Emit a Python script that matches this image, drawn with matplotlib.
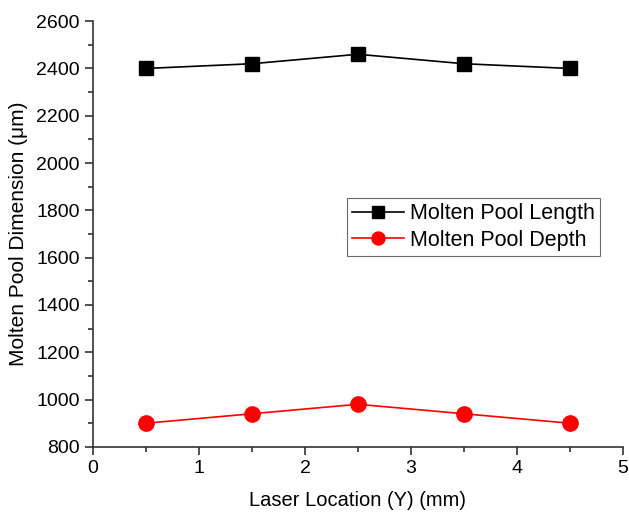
import matplotlib.pyplot as plt
from matplotlib.ticker import MultipleLocator

plt.rcParams['font.family'] = ['Liberation Sans', 'DejaVu Sans']

location = [0.5, 1.5, 2.5, 3.5, 4.5]
pool_length = [2400, 2420, 2460, 2420, 2400]
pool_depth = [900, 940, 980, 940, 900]

fig = plt.figure(figsize=(6.29, 5.16), dpi=100)
ax = fig.add_axes([0.148, 0.134, 0.842, 0.825])

ax.plot(location, pool_length, color='black', marker='s', markersize=10,
        linewidth=1.2, label='Molten Pool Length')
ax.plot(location, pool_depth, color='red', marker='o', markersize=11,
        linewidth=1.2, label='Molten Pool Depth')

ax.set_xlim(0, 5)
ax.set_ylim(800, 2600)
ax.xaxis.set_major_locator(MultipleLocator(1))
ax.xaxis.set_minor_locator(MultipleLocator(0.5))
ax.yaxis.set_major_locator(MultipleLocator(200))
ax.yaxis.set_minor_locator(MultipleLocator(100))

for side in ['top', 'right']:
    ax.spines[side].set_visible(False)
for side in ['left', 'bottom']:
    ax.spines[side].set_linewidth(1.2)
    ax.spines[side].set_color('#333333')
ax.tick_params(which='major', direction='out', length=6, width=1.2,
               labelsize=14, color='#333333')
ax.tick_params(which='minor', direction='out', length=3.5, width=1.2,
               color='#333333')

ax.set_xlabel('Laser Location (Y) (mm)', fontsize=14.5, labelpad=10)
ax.set_ylabel('Molten Pool Dimension (μm)', fontsize=15, labelpad=6)

leg = ax.legend(loc='upper right', bbox_to_anchor=(0.958, 0.585),
                fontsize=15.5, frameon=True, fancybox=False,
                edgecolor='#444444', handlelength=2.4, borderpad=0.25,
                labelspacing=0.25, handletextpad=0.3, borderaxespad=0,
                markerscale=0.85)
leg.get_frame().set_linewidth(0.8)

fig.savefig('out.png', dpi=100)
